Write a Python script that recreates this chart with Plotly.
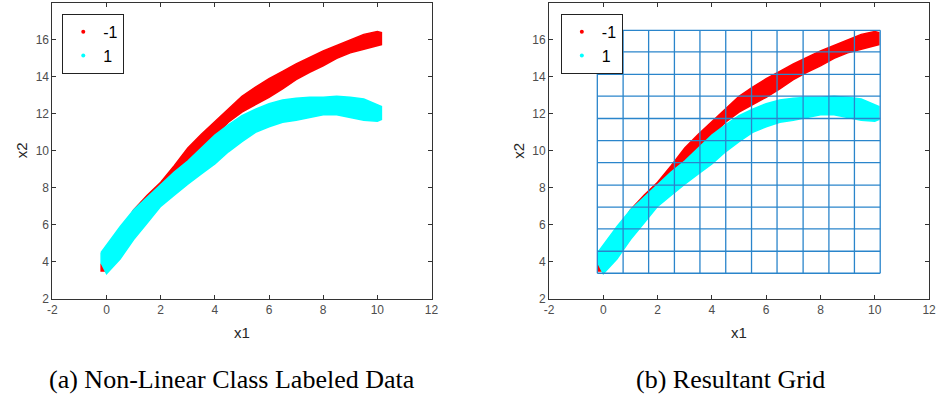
import plotly.graph_objects as go

# Sample positions along x1 where the extent of each class cloud is recorded
x1_pos = [-0.2, 0.0, 0.5, 1.0, 1.5, 2.0, 2.5, 3.0, 3.5, 4.0, 4.5, 5.0, 5.5,
          6.0, 6.5, 7.0, 7.5, 8.0, 8.5, 9.0, 9.5, 10.0, 10.15]

# Class -1 (red): upper and lower edge of the point cloud in x2
neg_upper = [3.9, 4.3, 5.6, 6.8, 7.6, 8.3, 9.2, 10.15, 10.9, 11.6, 12.3, 12.95,
             13.45, 13.9, 14.3, 14.7, 15.05, 15.4, 15.7, 16.0, 16.3, 16.45, 16.4]
neg_lower = [3.5, 3.5, 4.6, 5.8, 6.7, 7.4, 8.2, 9.2, 10.0, 10.8, 11.55, 12.1,
             12.5, 12.9, 13.35, 13.85, 14.25, 14.6, 15.0, 15.3, 15.5, 15.7, 15.75]

# Class 1 (cyan): upper and lower edge of the point cloud in x2
pos_upper = [4.5, 4.9, 5.9, 6.8, 7.5, 8.2, 8.85, 9.45, 10.15, 10.85, 11.4, 11.9,
             12.25, 12.55, 12.75, 12.85, 12.9, 12.9, 12.95, 12.9, 12.8, 12.5, 12.4]
pos_lower = [3.95, 3.35, 4.15, 5.2, 6.1, 7.0, 7.6, 8.2, 8.75, 9.3, 9.95, 10.5,
             11.0, 11.3, 11.55, 11.65, 11.8, 11.95, 11.95, 11.8, 11.65, 11.6, 11.7]

# Cell boundaries of the resultant grid
grid_x = [-0.22, 0.73, 1.67, 2.62, 3.56, 4.51, 5.46, 6.40, 7.36, 8.31, 9.25, 10.20]
grid_y = [3.38, 4.57, 5.78, 6.96, 8.15, 9.36, 10.55, 11.75, 12.96, 14.14, 15.35, 16.52]

class_names = ["-1", "1"]
class_colors = ["#ff0000", "#00ffff"]

x_ticks = [-2, 0, 2, 4, 6, 8, 10, 12]
y_ticks = [2, 4, 6, 8, 10, 12, 14, 16, 18]

SANS = "Arial, 'Liberation Sans', sans-serif"
SERIF = "'Times New Roman', 'Liberation Serif', Times, serif"

W, H = 943, 406
dom_x = [[48 / W, 432 / W], [551 / W, 936 / W]]
dom_y = [(H - 304) / H, (H - 3) / H]

fig = go.Figure()


def band(upper, lower):
    xs = list(x1_pos) + list(reversed(x1_pos)) + [x1_pos[0]]
    ys = list(upper) + list(reversed(lower)) + [upper[0]]
    return xs, ys


bands = [(neg_upper, neg_lower), (pos_upper, pos_lower)]

for p in range(2):
    xa = "x" if p == 0 else "x2"
    ya = "y" if p == 0 else "y2"
    leg = "legend" if p == 0 else "legend2"
    for c in range(2):
        bx, by = band(*bands[c])
        fig.add_trace(go.Scatter(
            x=bx, y=by, mode="lines", fill="toself",
            fillcolor=class_colors[c],
            line=dict(color=class_colors[c], width=1.5),
            xaxis=xa, yaxis=ya, showlegend=False, hoverinfo="skip"))
    # legend entries
    for c in range(2):
        fig.add_trace(go.Scatter(
            x=[None], y=[None], mode="markers", name=class_names[c],
            marker=dict(color=class_colors[c], size=4),
            xaxis=xa, yaxis=ya, legend=leg, showlegend=True))

# grid of panel (b), drawn over the data
gx, gy = [], []
for xv in grid_x:
    gx += [xv, xv, None]
    gy += [grid_y[0], grid_y[-1], None]
for yv in grid_y:
    gx += [grid_x[0], grid_x[-1], None]
    gy += [yv, yv, None]
fig.add_trace(go.Scatter(x=gx, y=gy, mode="lines",
                         line=dict(color="#2a85cb", width=1.3),
                         xaxis="x2", yaxis="y2", showlegend=False,
                         hoverinfo="skip"))

axis_common = dict(
    showline=True, linecolor="#333333", linewidth=1, mirror="ticks",
    ticks="inside", ticklen=4, tickcolor="#333333", tickwidth=1,
    showgrid=False, zeroline=False,
    tickfont=dict(family=SANS, size=12, color="#4d4d4d"),
)
x_axis = dict(range=[-2, 12], tickvals=x_ticks, ticktext=[str(v) for v in x_ticks], **axis_common)
y_axis = dict(range=[2, 18], tickvals=y_ticks, ticktext=[str(v) for v in y_ticks], **axis_common)

legend_style = dict(
    xanchor="left", yanchor="top", bgcolor="white", bordercolor="#222222",
    borderwidth=1, font=dict(family=SANS, size=16, color="black"),
    itemwidth=30, tracegroupgap=0,
)

fig.update_layout(
    width=W, height=H,
    margin=dict(l=0, r=0, t=0, b=0),
    paper_bgcolor="white", plot_bgcolor="white",
    xaxis=dict(domain=dom_x[0], anchor="y", **x_axis),
    yaxis=dict(domain=dom_y, anchor="x", **y_axis),
    xaxis2=dict(domain=dom_x[1], anchor="y2", **x_axis),
    yaxis2=dict(domain=dom_y, anchor="x2", **y_axis),
    legend=dict(x=58 / W, y=(H - 14) / H, **legend_style),
    legend2=dict(x=563 / W, y=(H - 14) / H, **legend_style),
    showlegend=True,
)

label_font = dict(family=SANS, size=15, color="#262626")
for cx, lx in [(240, 17), (743.5, 520)]:
    fig.add_annotation(text="x1", x=cx / W, y=(H - 338) / H, xref="paper", yref="paper",
                       showarrow=False, font=label_font, xanchor="center", yanchor="middle")
    fig.add_annotation(text="x2", x=lx / W, y=(H - 153) / H, xref="paper", yref="paper",
                       showarrow=False, font=label_font, textangle=-90,
                       xanchor="center", yanchor="middle")

cap_font = dict(family=SERIF, size=26, color="black")
fig.add_annotation(text="(a) Non-Linear Class Labeled Data", x=230 / W, y=(H - 386) / H,
                   xref="paper", yref="paper", showarrow=False, font=cap_font,
                   xanchor="center", yanchor="middle")
fig.add_annotation(text="(b) Resultant Grid", x=734.5 / W, y=(H - 386) / H,
                   xref="paper", yref="paper", showarrow=False, font=cap_font,
                   xanchor="center", yanchor="middle")

fig.write_html("out.html")
